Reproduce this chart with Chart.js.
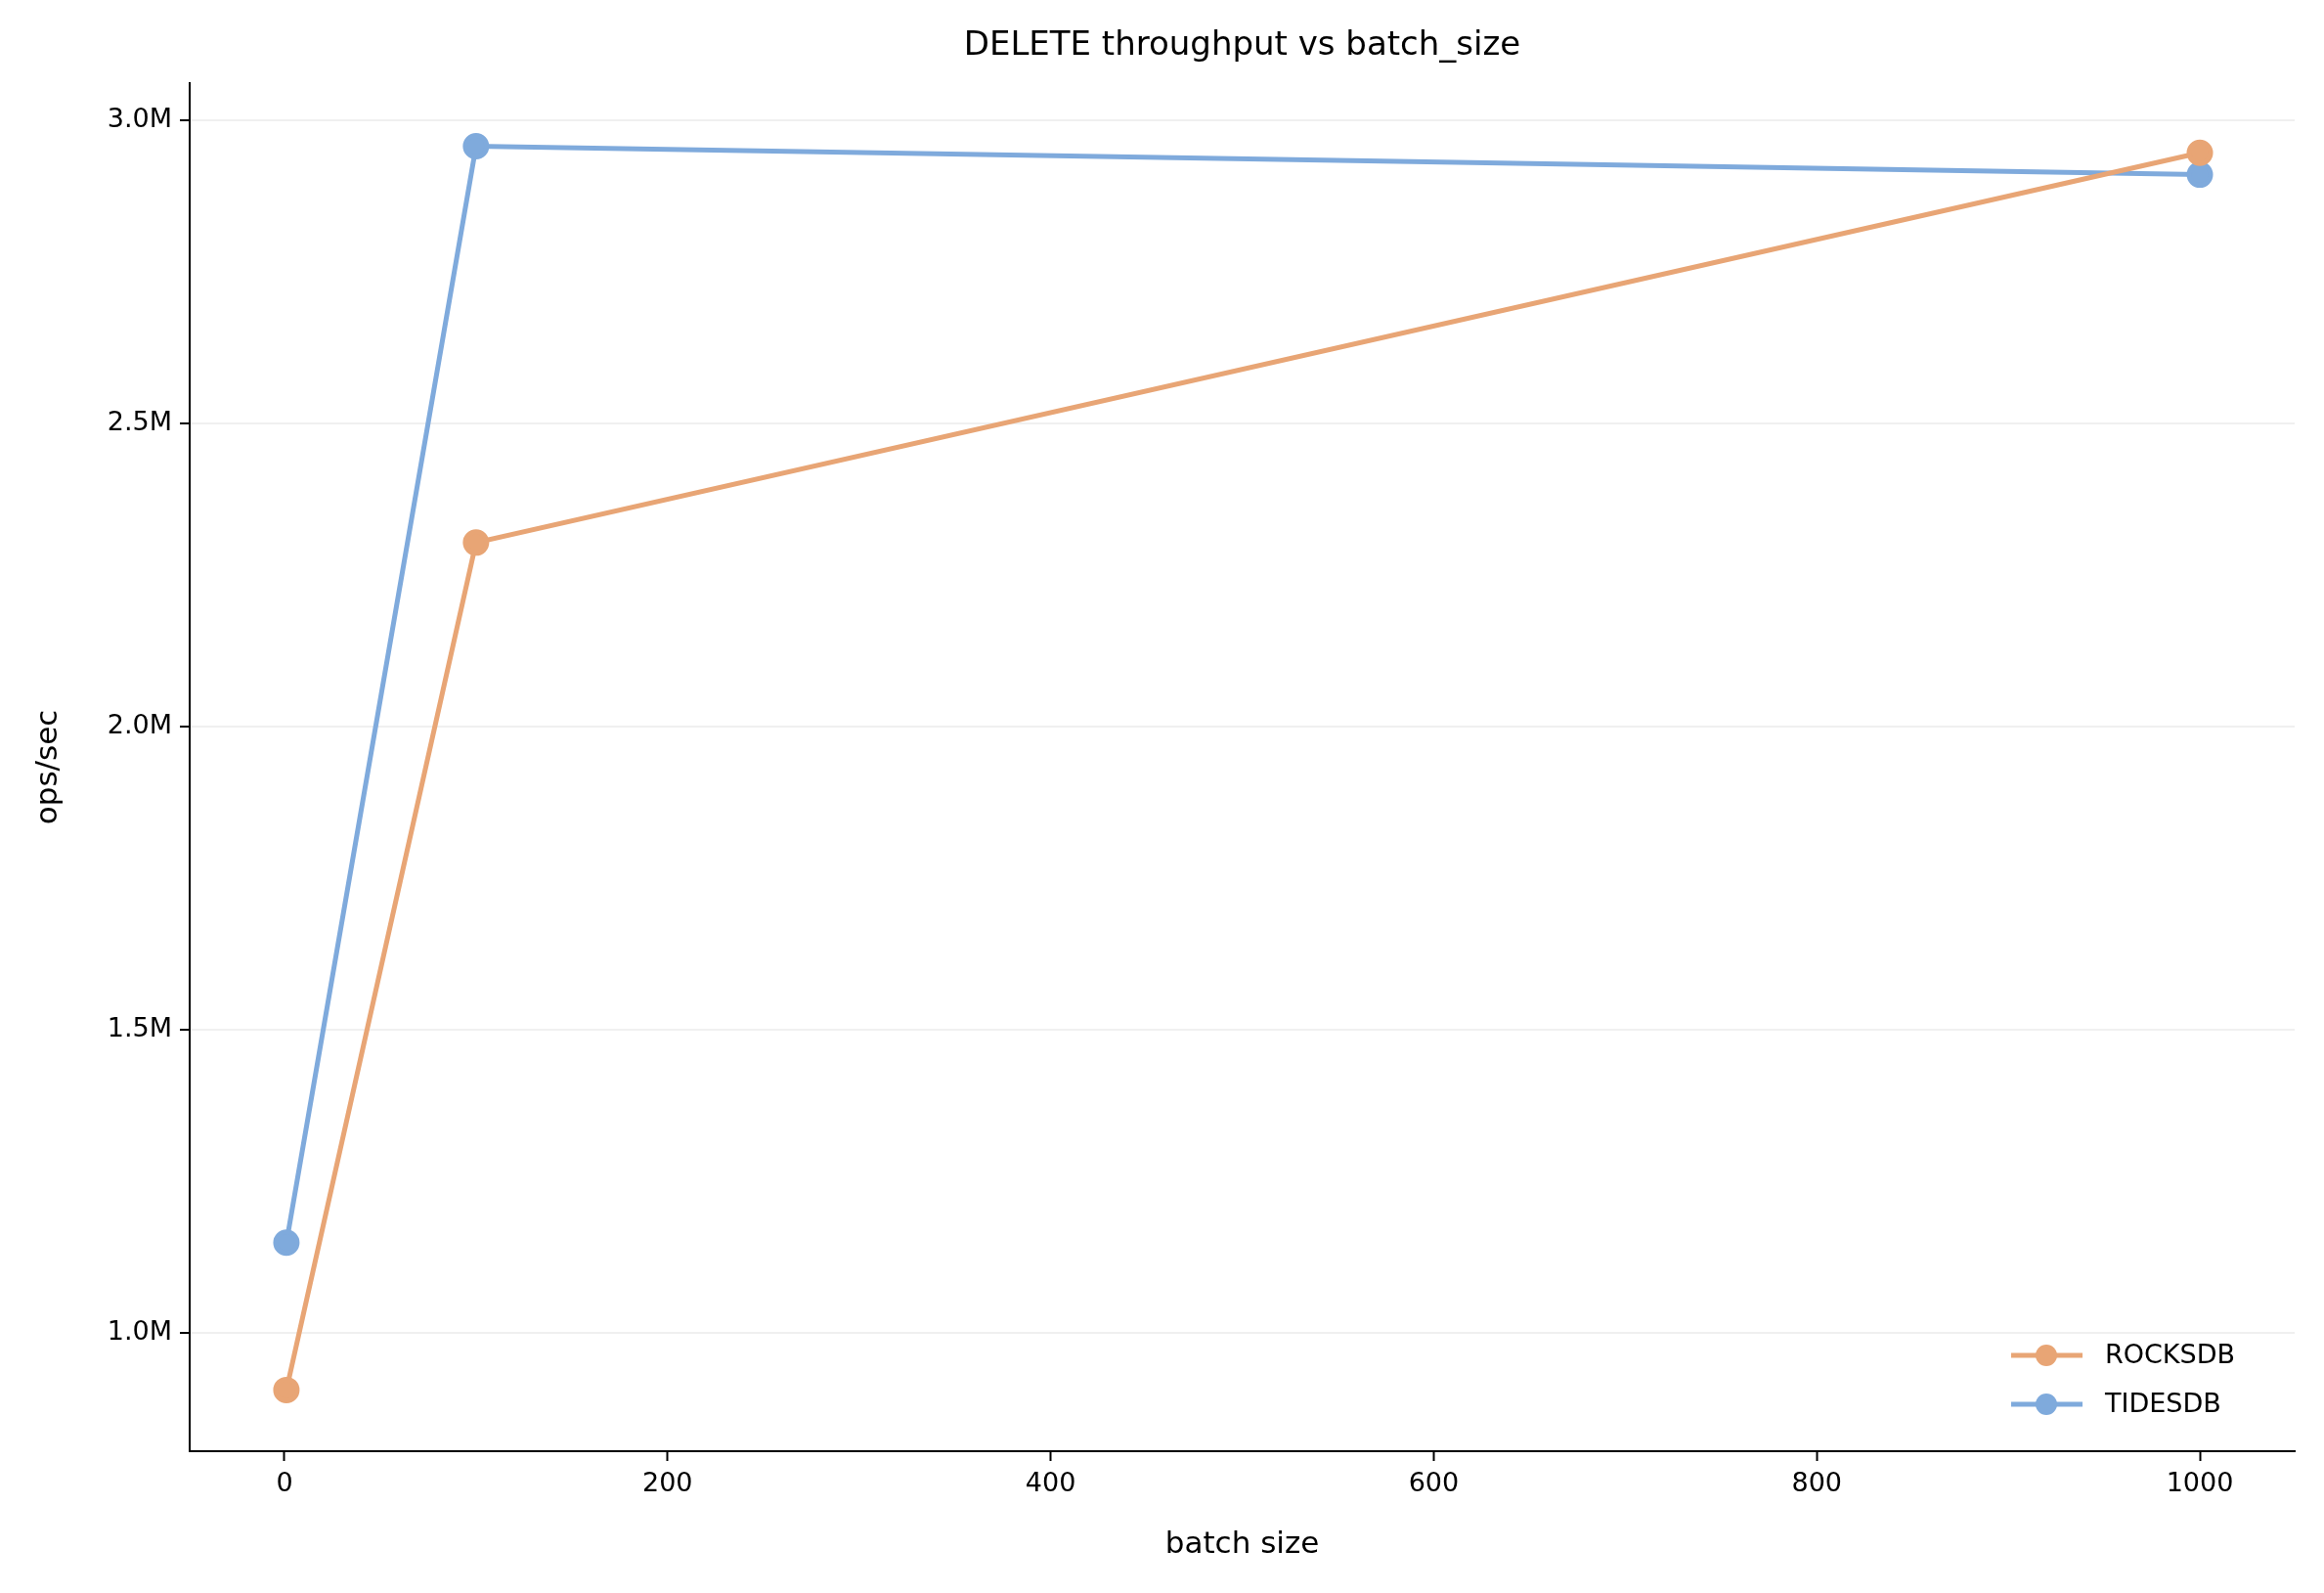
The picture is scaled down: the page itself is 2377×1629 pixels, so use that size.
<!DOCTYPE html><html><head><script src="https://cdn.jsdelivr.net/npm/chart.js"></script>
<style>body{margin:0;background:#fff}</style></head><body>
<canvas id="c" width="2377" height="1629"></canvas>
<script>
const batchSizes=[1,100,1000];
const rocksdb=[905000,2303000,2946000];
const tidesdb=[1148000,2957000,2910000];
const yTicks=[1000000,1500000,2000000,2500000,3000000];
const xTicks=[0,200,400,600,800,1000];
const cR='#E8A575',cT='#7FAADC';
const F='"DejaVu Sans"';
const deco={id:'deco',afterDraw(ch){const x=ch.ctx,a=ch.chartArea;x.save();x.fillStyle='#000';
x.font='34px '+F;x.textAlign='center';x.textBaseline='middle';x.fillText('DELETE throughput vs batch_size',(a.left+a.right)/2,47);
x.font='31px '+F;x.fillText('batch size',(a.left+a.right)/2,1580);
x.save();x.translate(50,(a.top+a.bottom)/2);x.rotate(-Math.PI/2);x.fillText('ops/sec',0,0);x.restore();
[[ 'ROCKSDB',cR,1386],['TIDESDB',cT,1436]].forEach(([t,c,y])=>{x.strokeStyle=c;x.lineWidth=5;x.beginPath();x.moveTo(2057,y);x.lineTo(2130,y);x.stroke();
x.fillStyle=c;x.beginPath();x.arc(2093,y,11,0,7);x.fill();x.fillStyle='#000';x.font='27px '+F;x.textAlign='left';x.fillText(t,2153,y+1);});
x.restore();}};
new Chart(document.getElementById('c'),{type:'line',
data:{datasets:[
{label:'ROCKSDB',data:batchSizes.map((b,i)=>({x:b,y:rocksdb[i]})),borderColor:cR,backgroundColor:cR,borderWidth:5,pointRadius:11,pointHoverRadius:11},
{label:'TIDESDB',data:batchSizes.map((b,i)=>({x:b,y:tidesdb[i]})),borderColor:cT,backgroundColor:cT,borderWidth:5,pointRadius:11,pointHoverRadius:11}]},
options:{responsive:false,devicePixelRatio:1,animation:false,layout:{padding:{top:85,right:30,left:0,bottom:0}},
plugins:{legend:{display:false},title:{display:false},tooltip:{enabled:false}},
scales:{
x:{type:'linear',min:-49.5,max:1049.5,afterBuildTicks:s=>{s.ticks=xTicks.map(v=>({value:v}))},
afterFit:s=>{s.height=145},
ticks:{font:{size:27,family:F},color:'#000',padding:8,callback:v=>v},
grid:{drawOnChartArea:false,tickLength:10,tickColor:'#000',tickWidth:2},border:{color:'#000',width:2}},
y:{min:804000,max:3061000,afterBuildTicks:s=>{s.ticks=yTicks.map(v=>({value:v}))},
afterFit:s=>{s.width=194},
ticks:{font:{size:27,family:F},color:'#000',padding:8,callback:v=>(v/1e6).toFixed(1)+'M'},
grid:{color:'#f0f0f0',lineWidth:2,tickLength:10,tickColor:'#000',tickWidth:2},border:{color:'#000',width:2}}}},
plugins:[deco]});
</script></body></html>
